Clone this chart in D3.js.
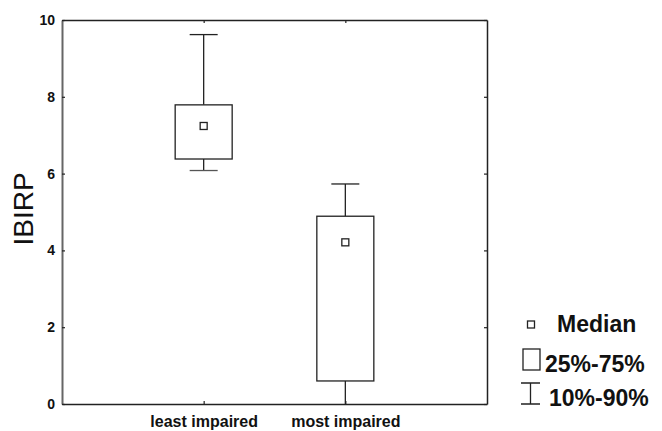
<!DOCTYPE html>
<html>
<head>
<meta charset="utf-8">
<script src="https://cdn.jsdelivr.net/npm/d3@7"></script>
<style>
  body { margin: 0; background: #fff; }
  svg { display: block; font-family: "Liberation Sans", Arial, sans-serif; }
</style>
</head>
<body>
<div id="chart"></div>
<script>
// Box plot data
const categories = ["least impaired", "most impaired"];
const p10 = [6.08, 0];
const p25 = [6.38, 0.6];
const median = [7.24, 4.21];
const p75 = [7.79, 4.89];
const p90 = [9.62, 5.73];
const yTicks = [0, 2, 4, 6, 8, 10];

const width = 662, height = 431;
const margin = {top: 20, right: 175, bottom: 27, left: 62};
const vis_width = width - margin.left - margin.right;
const vis_height = height - margin.top - margin.bottom;

const svg = d3.select("#chart")
              .append("svg")
              .attr("width", width)
              .attr("height", height);

const g = svg.append("g")
             .attr("transform", "translate(" + margin.left + "," + margin.top + ")");

const x = d3.scalePoint().domain(categories).range([0, vis_width]).padding(1);
const y = d3.scaleLinear().domain([0, 10]).range([vis_height, 0]);

const boxW = 57, capW = 28, medS = 7;

// frame + inward ticks on all four sides
const axL = g.append("g")
  .call(d3.axisLeft(y).tickValues(yTicks).tickSize(-3).tickPadding(7).tickSizeOuter(0));
const axR = g.append("g").attr("transform", "translate(" + vis_width + ",0)")
  .call(d3.axisRight(y).tickValues(yTicks).tickSize(-3).tickSizeOuter(0).tickFormat(""));
const axB = g.append("g").attr("transform", "translate(0," + vis_height + ")")
  .call(d3.axisBottom(x).tickSize(-3).tickPadding(12).tickSizeOuter(0));
const axT = g.append("g")
  .call(d3.axisTop(x).tickSize(-3).tickSizeOuter(0).tickFormat(""));

[axL, axR, axB, axT].forEach(a => {
  a.select(".domain").attr("stroke", "#222").attr("stroke-width", 1.5);
  a.selectAll(".tick line").attr("stroke", "#222").attr("stroke-width", 1.2);
});
axL.select(".domain").attr("stroke", "#666").attr("stroke-width", 2);
axL.selectAll("text").attr("font-size", 14).attr("font-weight", "bold").attr("fill", "#111");
axB.selectAll("text").attr("font-size", 16).attr("font-weight", "bold").attr("fill", "#111");

// y label
svg.append("text")
   .attr("transform", "translate(33," + (margin.top + y(5) - 3) + ") rotate(-90)")
   .attr("text-anchor", "middle")
   .attr("font-size", 28)
   .attr("fill", "#111")
   .text("IBIRP");

// boxes
const boxes = g.selectAll(".box").data(categories).enter().append("g");

boxes.append("line")
  .attr("x1", d => x(d)).attr("x2", d => x(d))
  .attr("y1", (d, i) => y(p90[i])).attr("y2", (d, i) => y(p75[i]))
  .attr("stroke", "#222").attr("stroke-width", 1.3);
boxes.append("line")
  .attr("x1", d => x(d)).attr("x2", d => x(d))
  .attr("y1", (d, i) => y(p25[i])).attr("y2", (d, i) => y(p10[i]))
  .attr("stroke", "#222").attr("stroke-width", 1.3);
boxes.append("line")
  .attr("x1", d => x(d) - capW / 2).attr("x2", d => x(d) + capW / 2)
  .attr("y1", (d, i) => y(p90[i])).attr("y2", (d, i) => y(p90[i]))
  .attr("stroke", "#222").attr("stroke-width", 1.3);
boxes.filter((d, i) => p10[i] > 0).append("line")
  .attr("x1", d => x(d) - capW / 2).attr("x2", d => x(d) + capW / 2)
  .attr("y1", d => y(p10[categories.indexOf(d)])).attr("y2", d => y(p10[categories.indexOf(d)]))
  .attr("stroke", "#555").attr("stroke-width", 1.3);
boxes.append("rect")
  .attr("x", d => x(d) - boxW / 2)
  .attr("y", (d, i) => y(p75[i]))
  .attr("width", boxW)
  .attr("height", (d, i) => y(p25[i]) - y(p75[i]))
  .attr("fill", "#fff").attr("stroke", "#222").attr("stroke-width", 1.3);
boxes.append("rect")
  .attr("x", d => x(d) - medS / 2)
  .attr("y", (d, i) => y(median[i]) - medS / 2)
  .attr("width", medS).attr("height", medS)
  .attr("fill", "#fff").attr("stroke", "#222").attr("stroke-width", 1.3);

// legend
const lg = svg.append("g").attr("font-weight", "bold").attr("font-size", 23).attr("fill", "#111");
lg.append("rect").attr("x", 527.5).attr("y", 321).attr("width", medS).attr("height", medS)
  .attr("fill", "#fff").attr("stroke", "#222").attr("stroke-width", 1.3);
lg.append("text").attr("x", 557).attr("y", 332).text("Median");
lg.append("rect").attr("x", 523).attr("y", 349).attr("width", 17).attr("height", 21)
  .attr("fill", "#fff").attr("stroke", "#222").attr("stroke-width", 1.3);
lg.append("text").attr("x", 545).attr("y", 372).text("25%-75%");
lg.append("path").attr("d", "M521,383H540M530.5,383V404M521,404H540")
  .attr("fill", "none").attr("stroke", "#222").attr("stroke-width", 1.3);
lg.append("text").attr("x", 549).attr("y", 406).text("10%-90%");
</script>
</body>
</html>
